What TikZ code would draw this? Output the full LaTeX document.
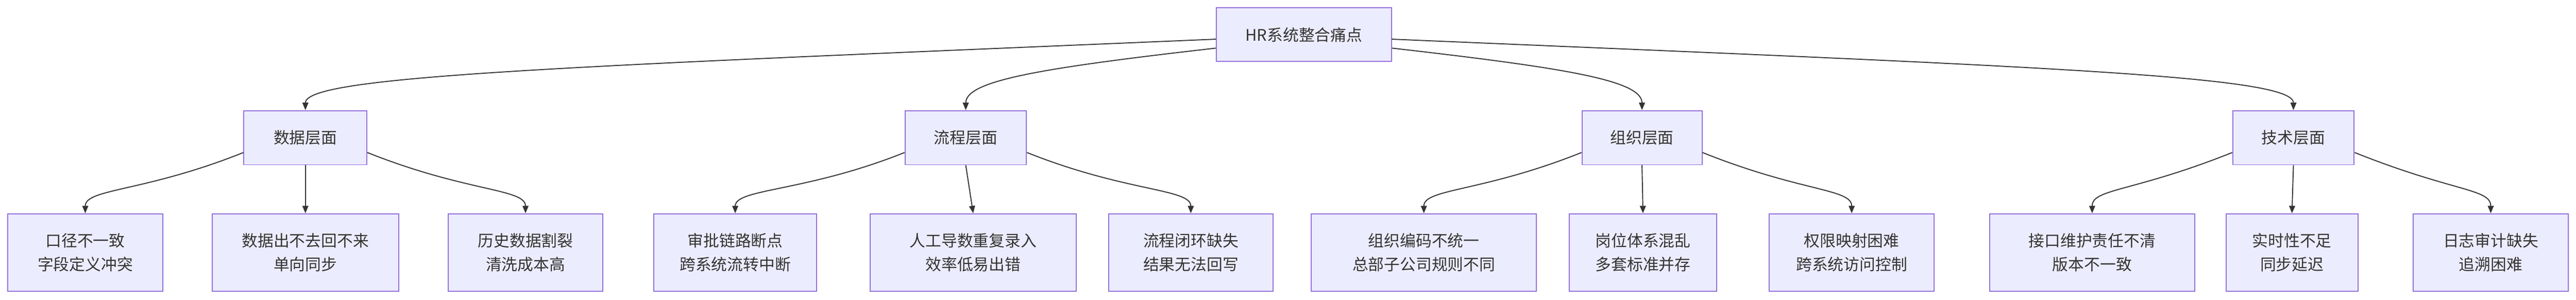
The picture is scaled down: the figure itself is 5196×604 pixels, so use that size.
\documentclass[tikz,border=0pt]{standalone}
\usepackage{fontspec}
\setmainfont{Noto Sans CJK SC}
\usetikzlibrary{arrows.meta,calc}
\definecolor{bx}{HTML}{ECECFF}
\definecolor{bd}{HTML}{9370DB}
\definecolor{tx}{HTML}{333333}
\begin{document}
\begin{tikzpicture}[x=1pt,y=-1pt,
  box/.style={draw=bd,fill=bx,line width=2pt,text=tx,font=\fontsize{32}{48}\selectfont,align=center,inner sep=0pt},
  mid/.style={box,minimum height=109pt},
  leaf/.style={box,minimum height=156pt},
  link/.style={draw=tx,line width=2pt,-{Triangle[length=15pt,width=12pt]}}]
\useasboundingbox (0,0) rectangle (5196,604);
\node[box,minimum width=353pt,minimum height=108pt] (root) at (2630,70) {HR系统整合痛点};
\node[mid,minimum width=248pt] (m1) at (616,277.5) {数据层面};
\node[mid,minimum width=245pt] (m2) at (1948,277.5) {流程层面};
\node[mid,minimum width=242pt] (m3) at (3312,277.5) {组织层面};
\node[mid,minimum width=245pt] (m4) at (4626,277.5) {技术层面};
\node[leaf,minimum width=312pt] (a1) at (172,509) {口径不一致\\字段定义冲突};
\node[leaf,minimum width=376pt] (a2) at (616,509) {数据出不去回不来\\单向同步};
\node[leaf,minimum width=312pt] (a3) at (1060,509) {历史数据割裂\\清洗成本高};
\node[leaf,minimum width=328pt] (b1) at (1483,509) {审批链路断点\\跨系统流转中断};
\node[leaf,minimum width=415pt] (b2) at (1963,509) {人工导数重复录入\\效率低易出错};
\node[leaf,minimum width=331pt] (b3) at (2402,509) {流程闭环缺失\\结果无法回写};
\node[leaf,minimum width=454pt] (c1) at (2872,509) {组织编码不统一\\总部子公司规则不同};
\node[leaf,minimum width=298pt] (c2) at (3314,509) {岗位体系混乱\\多套标准并存};
\node[leaf,minimum width=332pt] (c3) at (3735,509) {权限映射困难\\跨系统访问控制};
\node[leaf,minimum width=414pt] (d1) at (4220,509) {接口维护责任不清\\版本不一致};
\node[leaf,minimum width=266pt] (d2) at (4623,509) {实时性不足\\同步延迟};
\node[leaf,minimum width=312pt] (d3) at (5024,509) {日志审计缺失\\追溯困难};
\draw[link] ($(root.west)+(0,9)$) .. controls +(-1300,55) and +(0,-70) .. (m1.north);
\draw[link] ($(root.west)+(0,27)$) .. controls +(-350,40) and +(0,-60) .. (m2.north);
\draw[link] ($(root.east)+(0,27)$) .. controls +(350,40) and +(0,-60) .. (m3.north);
\draw[link] ($(root.east)+(0,9)$) .. controls +(1300,55) and +(0,-70) .. (m4.north);
\foreach \m/\l/\c/\r in {m1/a1/a2/a3,m2/b1/b2/b3,m3/c1/c2/c3,m4/d1/d2/d3}{
  \draw[link] ($(\m.west)+(0,30)$) .. controls +(-200,80) and +(0,-50) .. (\l.north);
  \draw[link] (\m.south) -- (\c.north);
  \draw[link] ($(\m.east)+(0,30)$) .. controls +(200,80) and +(0,-50) .. (\r.north);
}
\end{tikzpicture}
\end{document}
